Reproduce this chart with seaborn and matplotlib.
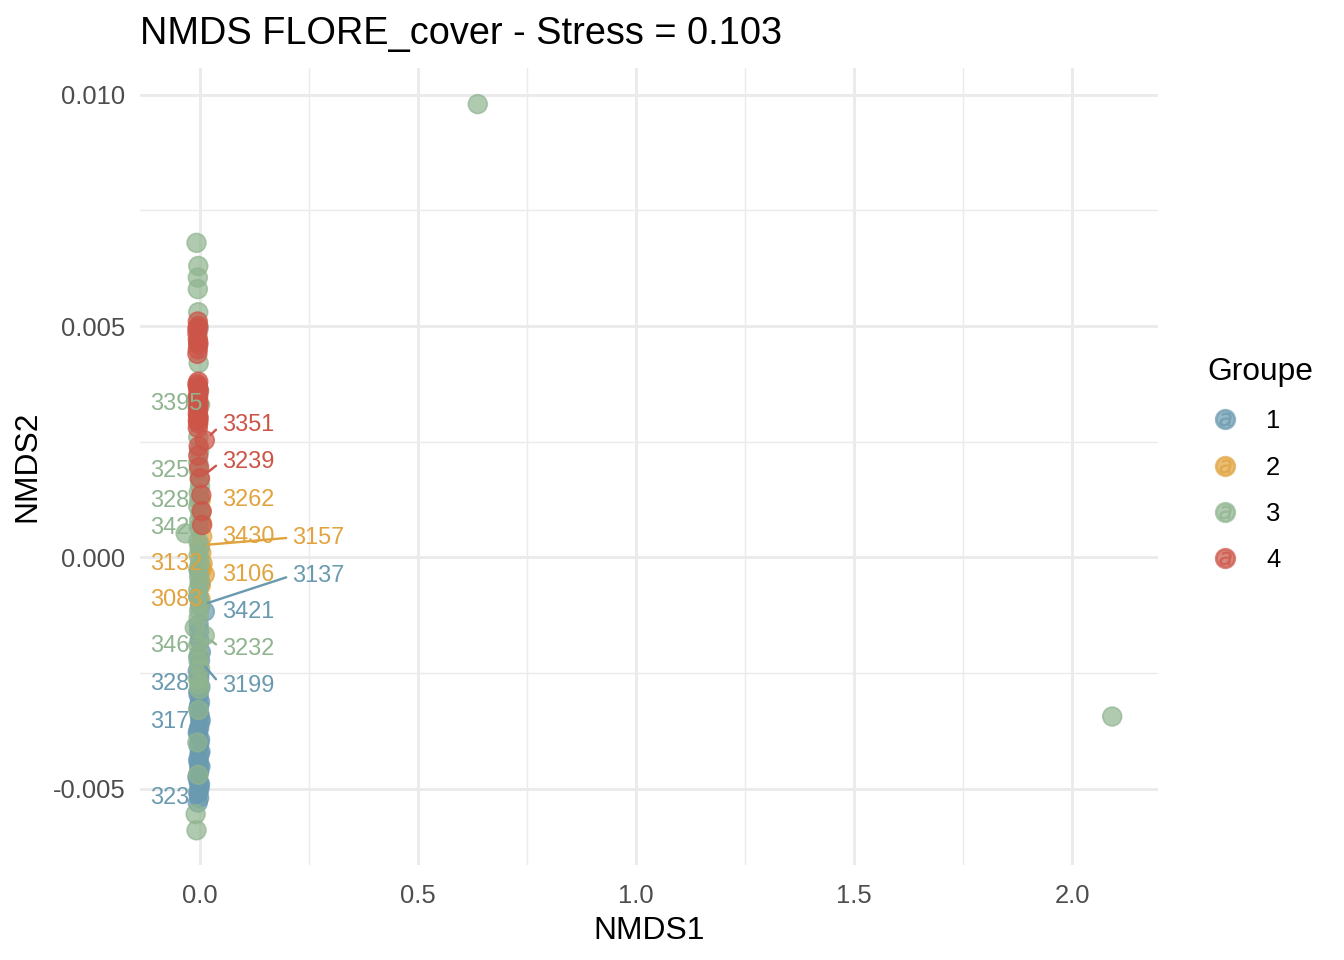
import matplotlib
matplotlib.use("Agg")
import matplotlib.pyplot as plt
from matplotlib.lines import Line2D
from matplotlib.legend_handler import HandlerTuple
import pandas as pd
import seaborn as sns

# NMDS scores per group (NMDS2 values in units of 1e-3)
g1_y = [-0.30, -0.55, -0.85, -1.04, -1.17, -1.45, -1.60, -1.80, -2.05, -2.15,
        -2.23, -2.45, -2.50, -2.62, -2.80, -2.90, -2.98, -3.12, -3.20, -3.28,
        -3.40, -3.50, -3.55, -3.68, -3.75, -3.80, -3.93, -4.00, -4.08, -4.20,
        -4.25, -4.35, -4.40, -4.50, -4.52, -4.63, -4.70, -4.75, -4.86, -4.90,
        -4.98, -5.05, -5.10, -5.20, -5.30]
g1_x = [-0.002, 0.001, -0.004, 0.000, 0.011, -0.003, -0.002, -0.001, 0.002, -0.004,
        0.000, -0.005, -0.001, -0.002, 0.001, -0.004, -0.003, 0.000, -0.002, -0.004,
        -0.001, 0.001, 0.001, -0.002, -0.004, -0.005, 0.000, -0.001, -0.003, 0.001,
        -0.001, -0.003, -0.004, -0.002, 0.001, -0.002, -0.004, -0.006, -0.003, 0.000,
        -0.001, -0.003, -0.004, -0.002, -0.005]

g2_y = [1.25, 0.98, 0.75, 0.45, 0.26, 0.10, -0.13, -0.25, -0.37, -0.60, -0.90]
g2_x = [0.002, 0.003, 0.004, 0.005, 0.000, 0.003, 0.006, 0.004, 0.011, 0.002, 0.001]

g3_y = [6.80, 6.30, 6.05, 5.80, 5.30, 4.95, 4.20, 3.60, 3.30, 2.60,
        2.30, 2.05, 1.88, 1.70, 1.55, 1.40, 1.23, 1.10, 0.95, 0.80,
        0.65, 0.52, 0.35, 0.20, 0.05, -0.10, -0.25, -0.42, -0.55, -0.70,
        -0.85, -1.00, -1.15, -1.30, -1.52, -1.69, -1.90, -2.10, -2.25, -2.40,
        -2.62, -2.75, -2.85, -3.30, -4.00, -4.70, -5.55, -5.90, 9.80, -3.44]
g3_x = [-0.008, -0.004, -0.005, -0.005, -0.004, -0.003, -0.003, -0.002, 0.000, -0.004,
        -0.002, -0.004, -0.003, -0.001, 0.000, -0.003, -0.002, -0.004, 0.001, -0.002,
        -0.003, -0.033, -0.004, -0.001, -0.003, 0.000, -0.004, -0.002, -0.001, -0.004,
        -0.003, 0.001, -0.002, -0.003, -0.012, 0.011, -0.004, -0.002, -0.003, 0.000,
        -0.005, -0.002, -0.001, -0.003, -0.006, -0.004, -0.010, -0.008, 0.637, 2.092]

g4_y = [5.10, 5.00, 4.95, 4.85, 4.72, 4.65, 4.60, 4.50, 4.40, 3.80,
        3.75, 3.70, 3.65, 3.60, 3.50, 3.45, 3.42, 3.32, 3.25, 3.20,
        3.10, 3.05, 3.00, 2.95, 2.90, 2.80, 2.53, 2.40, 2.20, 1.95,
        1.71, 1.35, 1.00, 0.70]
g4_x = [-0.005, -0.004, -0.006, -0.006, -0.005, -0.004, -0.004, -0.005, -0.006, -0.004,
        -0.006, -0.005, -0.004, -0.003, -0.004, -0.006, -0.005, -0.003, -0.005, -0.004,
        -0.005, -0.004, -0.003, -0.005, -0.004, -0.005, 0.011, -0.003, -0.004, -0.002,
        0.000, 0.003, 0.004, 0.005]

groups = ["1", "2", "3", "4"]
colors = {"1": "#6A9AB0", "2": "#E1A33E", "3": "#8FB48F", "4": "#CC5548"}

frames = []
for g, xs, ys in zip(groups, [g1_x, g2_x, g3_x, g4_x], [g1_y, g2_y, g3_y, g4_y]):
    frames.append(pd.DataFrame({"NMDS1": xs, "NMDS2": [v * 1e-3 for v in ys], "Groupe": g}))
df = pd.concat(frames, ignore_index=True)

# repelled labels: site id, group, labelled point (x, y*1e-3), text anchor (x, y*1e-3), segment?
lab_text = ["3395", "3351", "3239", "3262", "3430", "3157", "3106", "3137", "3421", "3232",
            "3199", "3257", "3281", "3424", "3132", "3083", "3465", "3287", "3175", "3236"]
lab_group = ["3", "4", "4", "2", "2", "2", "2", "1", "1", "3",
             "1", "3", "3", "3", "2", "2", "3", "1", "1", "1"]
lab_px = [0.000, 0.011, 0.000, 0.002, 0.005, 0.000, 0.011, 0.000, 0.011, 0.011,
          0.000, -0.003, -0.002, -0.003, 0.006, 0.001, -0.004, -0.002, -0.001, -0.002]
lab_py = [3.30, 2.53, 1.71, 1.25, 0.45, 0.26, -0.37, -1.04, -1.17, -1.69,
          -2.23, 1.88, 1.23, 0.65, -0.13, -0.90, -1.90, -2.62, -3.55, -5.20]
lab_tx = [-0.115, 0.050, 0.050, 0.050, 0.050, 0.211, 0.050, 0.211, 0.050, 0.050,
          0.050, -0.115, -0.115, -0.115, -0.115, -0.115, -0.115, -0.115, -0.115, -0.115]
lab_ty = [3.32, 2.88, 2.08, 1.26, 0.45, 0.43, -0.38, -0.39, -1.17, -1.98,
          -2.78, 1.88, 1.23, 0.65, -0.13, -0.91, -1.90, -2.73, -3.55, -5.20]
lab_seg = [False, True, True, False, False, True, False, True, False, True,
           True, False, False, False, False, False, False, False, False, False]
lab_top = [True, True, True, True, True, True, True, True, True, True,
           True, False, False, False, True, True, False, False, False, False]

sns.set_theme(style="whitegrid")
plt.rcParams["font.family"] = ["Liberation Sans", "DejaVu Sans"]

fig = plt.figure(figsize=(7, 5), dpi=192)
ax = fig.add_axes([140 / 1344, 1 - 865 / 960, (1158 - 140) / 1344, (865 - 68) / 960])

sns.scatterplot(data=df, x="NMDS1", y="NMDS2", hue="Groupe", palette=colors,
                hue_order=groups, s=50, alpha=0.7, linewidth=0.6, ax=ax,
                legend=False, zorder=2)
for c in ax.collections:
    c.set_edgecolor(c.get_facecolor())

for t, g, px, py, tx, ty, seg, top in zip(lab_text, lab_group, lab_px, lab_py, lab_tx,
                                          lab_ty, lab_seg, lab_top):
    props = None
    if seg:
        props = dict(arrowstyle="-", color=colors[g], lw=0.9, shrinkA=0, shrinkB=3,
                     relpos=(0, 0.5))
    ax.annotate(t, xy=(px, py * 1e-3), xytext=(tx, ty * 1e-3), color=colors[g],
                fontsize=8.8, ha="left", va="center", zorder=3 if top else 1,
                arrowprops=props, annotation_clip=False)

ax.set_xlim(-0.1376, 2.197)
ax.set_ylim(-0.00665, 0.01058)
ax.set_xticks([0.0, 0.5, 1.0, 1.5, 2.0])
ax.set_xticklabels(["0.0", "0.5", "1.0", "1.5", "2.0"])
ax.set_yticks([-0.005, 0.0, 0.005, 0.010])
ax.set_yticklabels(["-0.005", "0.000", "0.005", "0.010"])
ax.set_xticks([0.25, 0.75, 1.25, 1.75], minor=True)
ax.set_yticks([-0.0025, 0.0025, 0.0075], minor=True)
ax.set_facecolor("white")
ax.grid(which="major", color="#EBEBEB", linewidth=1.1)
ax.grid(which="minor", color="#EBEBEB", linewidth=0.55)
ax.set_axisbelow(True)
for s in ax.spines.values():
    s.set_visible(False)
ax.tick_params(which="both", length=0, labelsize=9.6, labelcolor="#4D4D4D")
ax.tick_params(axis="x", pad=7)
ax.tick_params(axis="y", pad=5.5)

ax.set_xlabel("NMDS1", fontsize=11.9, color="black", labelpad=3)
ax.set_ylabel("NMDS2", fontsize=11.9, color="black", labelpad=4)
ax.set_title("NMDS FLORE_cover - Stress = 0.103", loc="left", fontsize=14.2,
             color="black", pad=9)

handles = []
for g in groups:
    dot = Line2D([], [], marker="o", linestyle="", markersize=7,
                 markerfacecolor=colors[g], markeredgecolor=colors[g], alpha=0.7)
    letter = Line2D([], [], marker="$a$", linestyle="", markersize=5,
                    markerfacecolor=colors[g], markeredgecolor=colors[g], alpha=0.7,
                    markeredgewidth=0.2)
    handles.append((dot, letter))
leg = fig.legend(handles, groups, handler_map={tuple: HandlerTuple(ndivide=1)},
                 title="Groupe", loc="upper left", bbox_to_anchor=(1184 / 1344, 1 - 334 / 960),
                 frameon=False, fontsize=9.6, title_fontsize=11.9, labelspacing=0.87,
                 handlelength=1.4, handletextpad=0.9, alignment="left")
leg.get_title().set_color("black")
for txt in leg.get_texts():
    txt.set_color("black")

fig.savefig("out.png", dpi=192, facecolor="white")
